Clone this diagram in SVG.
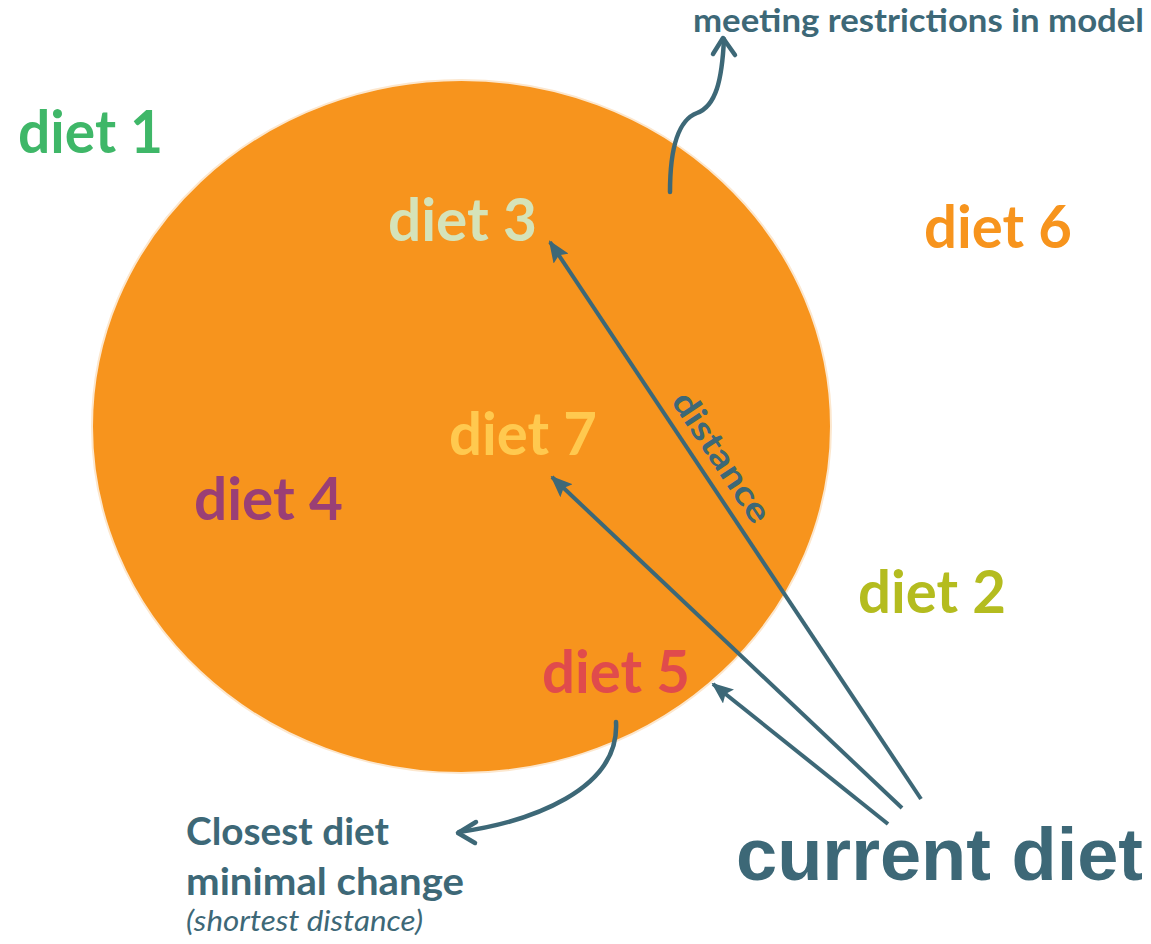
<svg xmlns="http://www.w3.org/2000/svg" width="1151" height="944" viewBox="0 0 1151 944">
<style>
.diet{font-family:Lato,"Open Sans",sans-serif;font-weight:bold;font-size:60px}
.lbl{font-family:Lato,"Open Sans",sans-serif;font-weight:bold;fill:#3D6877}
.ln{stroke:#3D6877;stroke-width:4;fill:none}
.curve{stroke:#3D6877;stroke-width:4.5;fill:none;stroke-linecap:round;stroke-linejoin:round}
</style>
<defs>
<marker id="ah" markerUnits="userSpaceOnUse" markerWidth="22" markerHeight="18" refX="20" refY="9" orient="auto">
<path d="M0,0 L22,9 L0,18 L4,9 z" fill="#3D6877"/>
</marker>
</defs>
<rect width="1151" height="944" fill="#ffffff"/>
<g id="feasible-region">
<ellipse cx="461.5" cy="426.5" rx="369.5" ry="346.5" fill="#F7941D" stroke="#FCE7CE" stroke-width="2"/>
</g>
<g id="diet1"><text class="diet" x="18" y="153" fill="#3FB768" textLength="145" lengthAdjust="spacingAndGlyphs">diet 1</text></g>
<g id="diet3"><text class="diet" x="388" y="241" fill="#D5E3B9" textLength="149" lengthAdjust="spacingAndGlyphs">diet 3</text></g>
<g id="diet6"><text class="diet" x="924" y="248" fill="#F7941D" textLength="148" lengthAdjust="spacingAndGlyphs">diet 6</text></g>
<g id="diet7"><text class="diet" x="449" y="455" fill="#FFC94F" textLength="148" lengthAdjust="spacingAndGlyphs">diet 7</text></g>
<g id="diet4"><text class="diet" x="194" y="520" fill="#9A3F75" textLength="149" lengthAdjust="spacingAndGlyphs">diet 4</text></g>
<g id="diet2"><text class="diet" x="858" y="613" fill="#B4BC1F" textLength="148" lengthAdjust="spacingAndGlyphs">diet 2</text></g>
<g id="diet5"><text class="diet" x="542" y="693" fill="#E04B4C" textLength="148" lengthAdjust="spacingAndGlyphs">diet 5</text></g>
<g id="meeting-label"><text class="lbl" x="693" y="32" font-size="33" textLength="451" lengthAdjust="spacingAndGlyphs">meeting restrictions in model</text></g>
<g id="closest-label">
<text class="lbl" x="186" y="845" font-size="38" textLength="203" lengthAdjust="spacingAndGlyphs">Closest diet</text>
<text class="lbl" x="186" y="895" font-size="38" textLength="278" lengthAdjust="spacingAndGlyphs">minimal change</text>
<text x="186" y="931" font-family="Lato,'Open Sans',sans-serif" font-style="italic" font-size="29" fill="#3D6877" textLength="237" lengthAdjust="spacingAndGlyphs">(shortest distance)</text>
</g>
<g id="current-diet"><text x="736" y="880" font-family="'Liberation Sans',Arial,sans-serif" font-weight="bold" font-size="74" fill="#3D6877" textLength="407" lengthAdjust="spacingAndGlyphs">current diet</text></g>
<g id="connectors">
<line class="ln" x1="921" y1="799" x2="550" y2="242" marker-end="url(#ah)"/>
<line class="ln" x1="902" y1="808" x2="552" y2="477" marker-end="url(#ah)"/>
<line class="ln" x1="888" y1="824" x2="713" y2="684" marker-end="url(#ah)"/>
<text transform="translate(712,463.6) rotate(56.3)" text-anchor="middle" class="lbl" font-size="34" textLength="150" lengthAdjust="spacingAndGlyphs">distance</text>
<path class="curve" d="M670,192 C670,148 678,120 697,113 C716,106 722,80 724,39"/>
<path class="curve" d="M713,54 L723,38 L735,55"/>
<path class="curve" d="M616,722 C620,790 530,822 459,832"/>
<path class="curve" d="M476,822 L458,833 L475,843"/>
</g>
</svg>
